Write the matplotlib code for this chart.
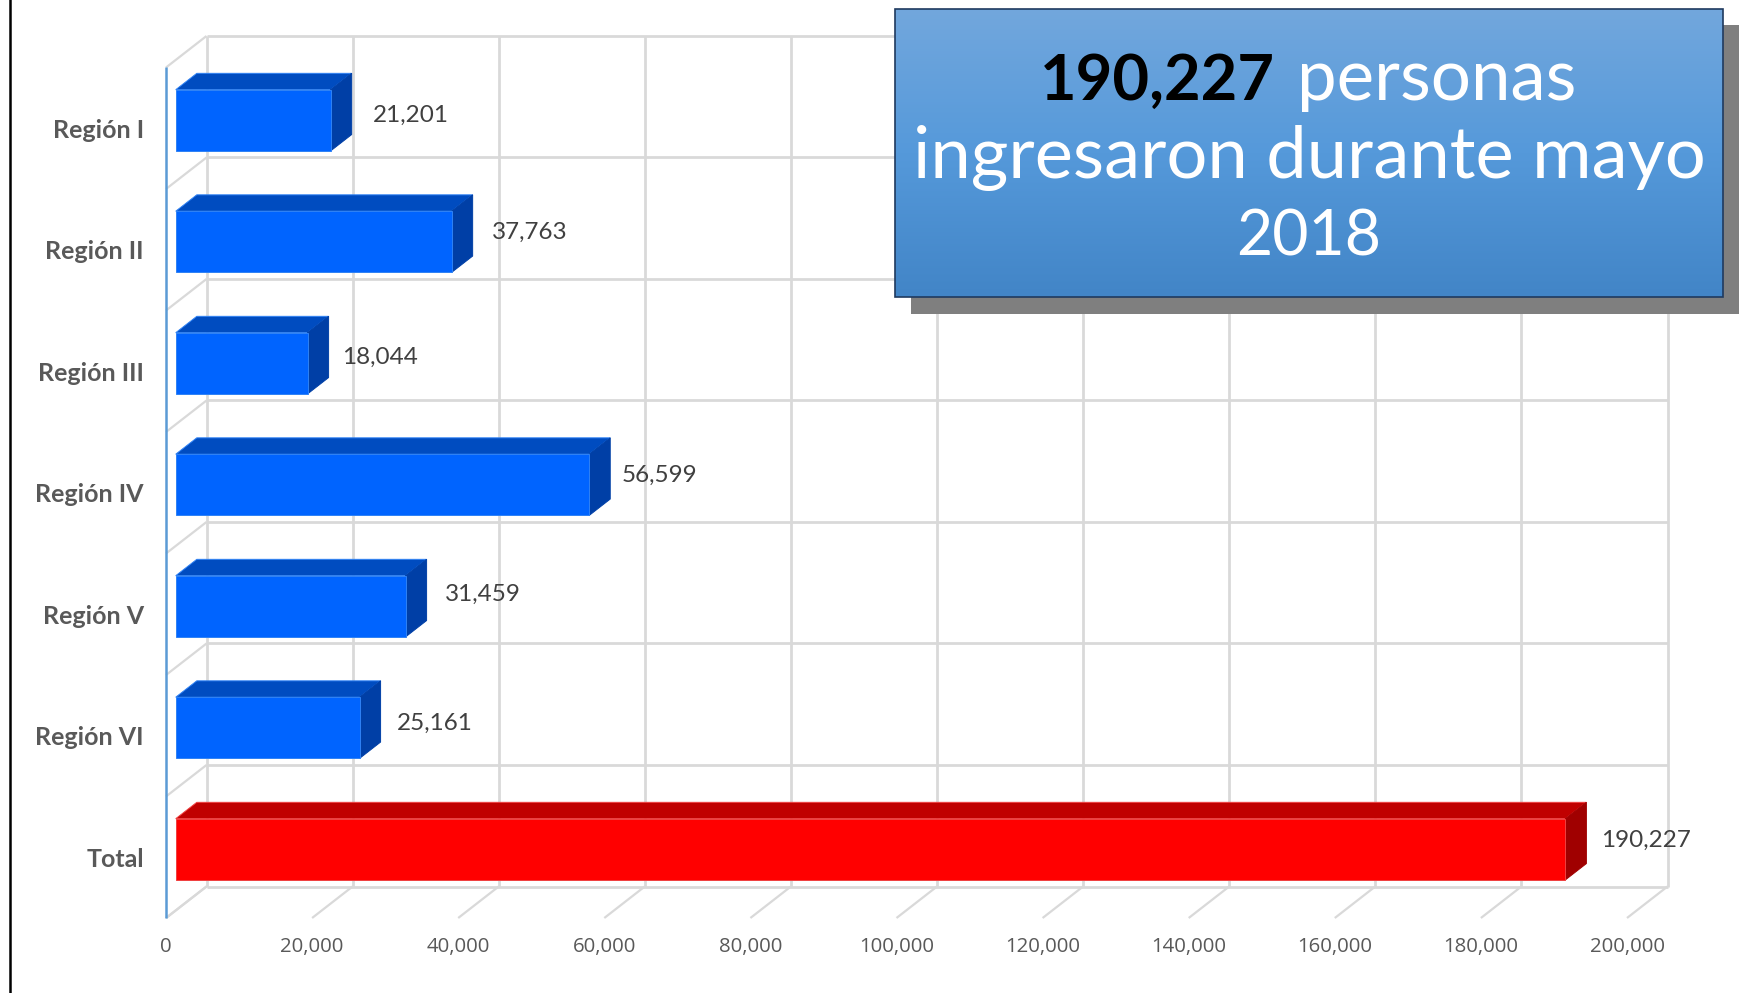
import numpy as np
import matplotlib
matplotlib.use("Agg")
import matplotlib.pyplot as plt
from matplotlib.patches import Rectangle

W = 1739
H = 993

categories = ["Región I", "Región II", "Región III", "Región IV", "Región V", "Región VI", "Total"]
values = [21201, 37763, 18044, 56599, 31459, 25161, 190227]
x_ticks = [0, 20000, 40000, 60000, 80000, 100000, 120000, 140000, 160000, 180000, 200000]

# hand placed data labels in the original, pixels from the bar end / row centre
label_dx = [21, 19, 13, 11, 18, 16, 15]
label_dy = [13, 17, 14, 17, 20, 12, 17]

GRID = "#d9d9d9"
GRAY = "#595959"

fig = plt.figure(figsize=(W / 100, H / 100), dpi=100, facecolor="white")

# front plane of the fake 3d box
left, right, top, bottom = 166, 1627, 67.5, 918
ax = fig.add_axes([left / W, 1 - bottom / H, (right - left) / W, (bottom - top) / H])
ax.set_xlim(0, 200000)
ax.set_ylim(7, 0)
ax.patch.set_alpha(0)
for s in ax.spines.values():
    s.set_visible(False)

# depth of the box in data units
px_x = 200000 / (right - left)
px_y = 7 / (bottom - top)
depth_x = 40.5 * px_x
depth_y = -31.5 * px_y


def pt(v, row, d):
    return v + d * depth_x, row + d * depth_y


def line(v0, r0, d0, v1, r1, d1, **kw):
    a = pt(v0, r0, d0)
    b = pt(v1, r1, d1)
    ax.plot([a[0], b[0]], [a[1], b[1]], clip_on=False, solid_capstyle="butt", **kw)


def face(corners, color, edge=None, z=3):
    xs = [pt(*c)[0] for c in corners]
    ys = [pt(*c)[1] for c in corners]
    ax.fill(xs, ys, facecolor=color, edgecolor=edge or color, lw=0.7, clip_on=False, zorder=z)


# walls
for t in x_ticks:
    line(t, 0, 1, t, 7, 1, color=GRID, lw=2, zorder=1)
    line(t, 7, 0, t, 7, 1, color=GRID, lw=1.6, zorder=1)
for r in range(8):
    line(0, r, 1, 200000, r, 1, color=GRID, lw=2, zorder=1)
    line(0, r, 0, 0, r, 1, color=GRID, lw=1.6, zorder=1)
line(0, 0, 0, 0, 7, 0, color="#5b9bd5", lw=1.8, zorder=2)

# bars
d0, d1 = 0.24, 0.76
gap = 0.245
for i, (cat, v) in enumerate(zip(categories, values)):
    if cat == "Total":
        c_front, c_top, c_side, c_edge = "#ff0000", "#c00000", "#a00000", "#f04040"
    else:
        c_front, c_top, c_side, c_edge = "#0064ff", "#004cc0", "#003fa6", "#2f82f5"
    r0 = i + gap
    r1 = i + 1 - gap - 0.006
    face([(0, r0, d0), (v, r0, d0), (v, r0, d1), (0, r0, d1)], c_top, c_edge)
    face([(v, r0, d0), (v, r1, d0), (v, r1, d1), (v, r0, d1)], c_side, c_side)
    face([(0, r0, d0), (v, r0, d0), (v, r1, d0), (0, r1, d0)], c_front, c_edge, z=4)
    # anchor sits on the bar back plane, 24 px above the row centre
    ax.annotate(f"{v:,}", xy=pt(v, i + 0.5, d1), xytext=(label_dx[i] * 0.72, (label_dy[i] - 24) * 0.72),
                textcoords="offset points", family="Lato", fontsize=17.5, color="#404040",
                ha="left", va="center", zorder=5)

ax.set_xticks(x_ticks)
ax.set_xticklabels([f"{t:,}" for t in x_ticks], family="Open Sans", fontsize=14.7, color=GRAY)
ax.set_yticks(np.arange(len(categories)) + 0.5)
ax.set_yticklabels(categories, family="Lato", fontweight="bold", fontsize=18, color=GRAY)
ax.tick_params(axis="x", length=0, pad=13.5)
ax.tick_params(axis="y", length=0, pad=16)

# overlay in pixel coordinates for the title box and page border
ov = fig.add_axes([0, 0, 1, 1], zorder=5)
ov.set_xlim(0, W)
ov.set_ylim(H, 0)
ov.axis("off")
ov.plot([10, 10], [0, H], color="black", lw=1.8)

bx0, bx1, by0, by1 = 895, 1723, 9, 297
ov.add_patch(Rectangle((911, 25), W - 911, 314 - 25, facecolor="#7f7f7f", edgecolor="none", zorder=1))
grad = np.linspace(0, 1, 256).reshape(-1, 1)
cmap = matplotlib.colors.LinearSegmentedColormap.from_list("box", ["#72a7dd", "#5599da", "#4285c7"])
ov.imshow(grad, cmap=cmap, extent=(bx0, bx1, by1, by0), aspect="auto", zorder=2)
ov.set_xlim(0, W)
ov.set_ylim(H, 0)
ov.add_patch(Rectangle((bx0, by0), bx1 - bx0, by1 - by0, facecolor="none", edgecolor="#1f3a5f", lw=1.2, zorder=3))

ov.text(1275, 100, "190,227", family="Lato", fontweight="bold", fontsize=45.5, color="black",
        ha="right", va="baseline", zorder=4)
ov.text(1297, 100, "personas", family="Lato", fontsize=51, color="white",
        ha="left", va="baseline", zorder=4)
ov.text(1309, 178, "ingresaron durante mayo", family="Lato", fontsize=52, color="white",
        ha="center", va="baseline", zorder=4)
ov.text(1309, 256, "2018", family="Lato", fontsize=45, color="white",
        ha="center", va="baseline", zorder=4)

fig.savefig("out.png", dpi=100)
